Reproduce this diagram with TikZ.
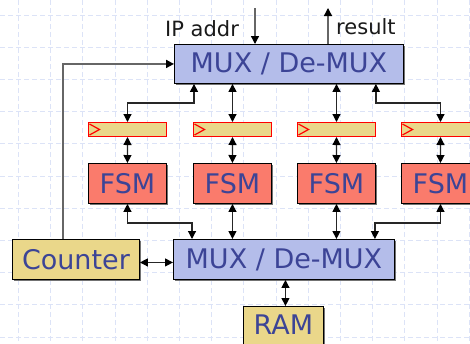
\documentclass[tikz,border=0pt]{standalone}
\usepackage{fontspec}
\setmainfont{DejaVu Sans}
\usetikzlibrary{arrows.meta,shadows}
\definecolor{muxblue}{HTML}{B4BDEA}
\definecolor{fsmred}{HTML}{FA7B6C}
\definecolor{khaki}{HTML}{EAD78A}
\definecolor{inkblue}{HTML}{3C4496}
\definecolor{gridblue}{HTML}{DCE3F7}
\definecolor{wire}{HTML}{262626}
\definecolor{feedgray}{HTML}{666666}

\begin{document}
\begin{tikzpicture}[x=1pt,y=-1pt,
  box/.style={draw=black, line width=0.9pt, inner sep=0pt, anchor=north west,
    text=inkblue, font=\fontsize{27}{27}\selectfont,
    general shadow={fill=black!55, shadow xshift=1.3pt, shadow yshift=-1.3pt}},
  muxbox/.style={box, fill=muxblue},
  fsmbox/.style={box, fill=fsmred, minimum width=78pt, minimum height=40pt},
  membox/.style={box, fill=khaki},
  regbox/.style={draw=red, line width=1pt, fill=khaki, inner sep=0pt, anchor=north west,
    minimum width=78pt, minimum height=14pt},
  tip/.tip={Triangle[width=8pt,length=8pt,color=black]},
  link/.style={draw=wire, line width=1.2pt, {tip}-{tip}},
  inlink/.style={draw=feedgray, line width=1.3pt, -{tip}},
  tag/.style={inner sep=0pt, anchor=base west, font=\fontsize{21}{21}\selectfont, text=black!90}
]
\useasboundingbox (0,0) rectangle (470,343);
\clip (0,0) rectangle (470,343);

% dashed background grid
\foreach \k in {0,...,14}
  \draw[gridblue, line width=0.8pt, dash pattern=on 5pt off 3pt] (18.3+32.2*\k,0) -- (18.3+32.2*\k,343);
\foreach \k in {0,...,10}
  \draw[gridblue, line width=0.8pt, dash pattern=on 5pt off 3pt] (0,15+32.2*\k) -- (470,15+32.2*\k);

% multiplexers
\node[muxbox, minimum width=229pt, minimum height=39pt] (mux1) at (174,44) {MUX / De-MUX};
\node[muxbox, minimum width=221pt, minimum height=40pt] (mux2) at (173,239) {MUX / De-MUX};

% counter and memory
\node[membox, minimum width=127pt, minimum height=40pt] (counter) at (12,239) {Counter};
\node[membox, minimum width=80pt, minimum height=40pt, text height=19pt, text depth=3pt] (ram) at (243,306) {RAM};

% registers and state machines
\foreach \i/\x in {1/88,2/193,3/297,4/401} {
  \node[regbox] (r\i) at (\x,122) {};
  \draw[red, line width=1.2pt, line join=miter]
    ([xshift=1.5pt,yshift=5.5pt]r\i.west) -- ([xshift=11.5pt]r\i.west) -- ([xshift=1.5pt,yshift=-5.5pt]r\i.west);
  \node[fsmbox] (f\i) at (\x,163) {FSM};
}

% top multiplexer to registers
\draw[link] ([xshift=20pt]mux1.south west) -- ++(0,19) -| (r1.north);
\draw[link] (r2.north |- mux1.south) -- (r2.north);
\draw[link] (r3.north |- mux1.south) -- (r3.north);
\draw[link] ([xshift=-28pt]mux1.south east) -- ++(0,19) -| (r4.north);

% registers to state machines
\foreach \i in {1,...,4}
  \draw[link] (r\i.south) -- (f\i.north);

% state machines to bottom multiplexer
\draw[link] (f1.south) -- ++(0,19) -| ([xshift=19pt]mux2.north west);
\draw[link] (f2.south) -- (f2.south |- mux2.north);
\draw[link] (f3.south) -- (f3.south |- mux2.north);
\draw[link] (f4.south) -- ++(0,19) -| ([xshift=-20pt]mux2.north east);

% counter, memory
\draw[link] ([yshift=-3pt]counter.east) -- ([yshift=-3pt]counter.east -| mux2.west);
\draw[link] ([xshift=2pt]ram.north |- mux2.south) -- ([xshift=2pt]ram.north);

% counter feedback into the top multiplexer
\coordinate (fb) at (63,0);
\draw[inlink, line width=1.8pt] (fb |- counter.north) -- (fb |- mux1.west) -- (mux1.west);

% external ports
\coordinate (ipin) at (255,8);
\coordinate (resout) at (328,8);
\draw[inlink] (ipin) -- (ipin |- mux1.north);
\draw[inlink] (resout |- mux1.north) -- (resout);
\node[tag] (iplabel) at (165,36) {IP addr};
\node[tag] (reslabel) at (336,34) {result};
\end{tikzpicture}
\end{document}
